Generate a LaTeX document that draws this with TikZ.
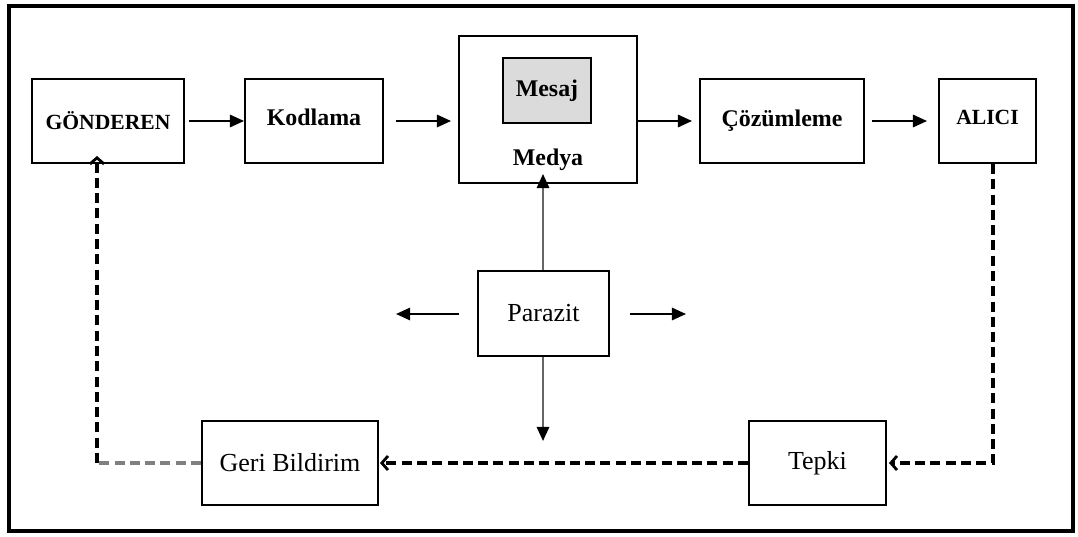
\documentclass[tikz,border=0pt]{standalone}
\usepackage{fontspec}
\setmainfont{Liberation Serif}
\usetikzlibrary{arrows.meta}
\tikzset{
  box/.style={draw, line width=1.1pt, inner sep=0pt},
  bigbold/.style={font=\bfseries\fontsize{13.6}{16}\selectfont},
  capsbold/.style={font=\bfseries\fontsize{12.3}{15}\selectfont},
  plain/.style={font=\fontsize{14.8}{17}\selectfont},
  flow/.style={line width=1.2pt, -{Triangle[length=8pt,width=7pt]}},
  noise/.style={line width=1.2pt, draw=black!60, -{Triangle[length=8pt,width=7pt,color=black]}},
  back/.style={line width=2pt, dash pattern=on 5.7pt off 3pt, -{Straight Barb[length=3.5pt,width=8pt,line width=1.6pt]}}
}
\begin{document}
\begin{tikzpicture}[x=0.02cm, y=-0.02cm]
  \useasboundingbox (0,0) rectangle (1078,537);
  % Frame
  \draw[line width=2.8pt] (9,6) rectangle (1073,531);
  % Top row
  \node[box, capsbold, minimum width=152*0.02cm, minimum height=84*0.02cm] (gonderen) at (108,121) {GÖNDEREN};
  \node[box, bigbold, minimum width=138*0.02cm, minimum height=84*0.02cm] (kodlama) at (314,121) {\raisebox{4pt}{Kodlama}};
  \node[box, minimum width=178*0.02cm, minimum height=147*0.02cm] (medya) at (548,109.5) {};
  \node[box, bigbold, fill=black!14, minimum width=88*0.02cm, minimum height=65*0.02cm] (mesaj) at (547,90.5) {Mesaj};
  \node[bigbold] (medyatxt) at (548,160) {Medya};
  \node[box, bigbold, minimum width=164*0.02cm, minimum height=84*0.02cm] (cozumleme) at (782,121) {\raisebox{3pt}{Çözümleme}};
  \node[box, capsbold, minimum width=97*0.02cm, minimum height=84*0.02cm] (alici) at (987.5,121) {\raisebox{4pt}{ALICI}};
  % Middle
  \node[box, plain, minimum width=131*0.02cm, minimum height=85*0.02cm] (parazit) at (543.5,313.5) {Parazit};
  % Bottom row
  \node[box, plain, minimum width=176*0.02cm, minimum height=84*0.02cm] (geri) at (290,463) {Geri Bildirim};
  \node[box, plain, minimum width=137*0.02cm, minimum height=84*0.02cm] (tepki) at (817.5,463) {Tepki};
  % Noise end points
  \coordinate (solucu) at (396,314);
  \coordinate (sagucu) at (686,314);
  \coordinate (altucu) at (543,441);
  % Forward arrows
  \draw[flow] ([xshift=4*0.02cm]gonderen.east) -- (kodlama.west);
  \draw[flow] ([xshift=12*0.02cm]kodlama.east) -- ([xshift=-7*0.02cm]medya.west |- kodlama.east);
  \draw[flow] (medya.east |- cozumleme.west) -- ([xshift=-7*0.02cm]cozumleme.west);
  \draw[flow] ([xshift=7*0.02cm]cozumleme.east) -- ([xshift=-11*0.02cm]alici.west);
  % Noise arrows
  \draw[noise] (parazit.north -| altucu) -- ([yshift=10*0.02cm]medya.south -| altucu);
  \draw[noise] (parazit.south -| altucu) -- (altucu);
  \draw[flow] ([xshift=-18*0.02cm]parazit.west |- solucu) -- (solucu);
  \draw[flow] ([xshift=20*0.02cm]parazit.east |- sagucu) -- (sagucu);
  % Feedback loop
  \draw[back] ([xshift=5.5*0.02cm]alici.south) |- ([xshift=2*0.02cm]tepki.east);
  \draw[back] (tepki.west) -- ([xshift=1*0.02cm]geri.east);
  \draw[line width=2pt, dash pattern=on 5.7pt off 3pt, draw=black!50] (geri.west) -- (97,463);
  \draw[back] (97,463) -- ([yshift=8*0.02cm]gonderen.south -| 97,0);
\end{tikzpicture}
\end{document}
